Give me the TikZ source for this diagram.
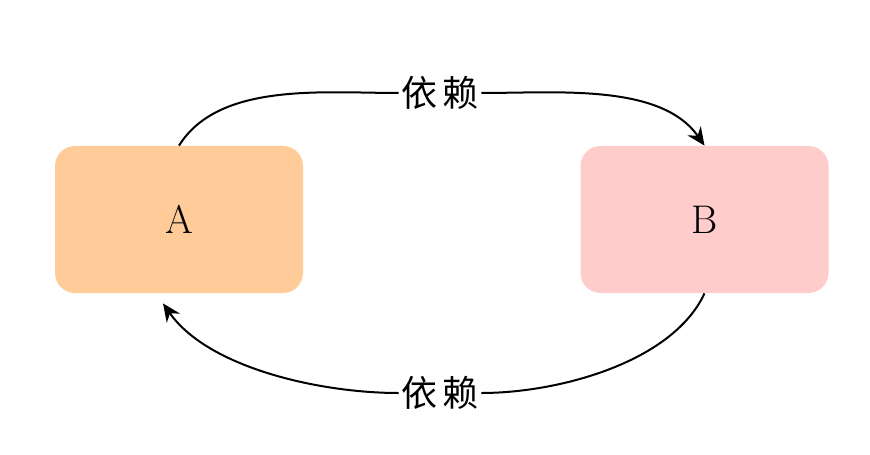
\documentclass[tikz,border=0pt]{standalone}
\usepackage{fontspec}
\usepackage{tikz}
\usepackage{xcolor}
\usetikzlibrary{arrows.meta,calc,positioning}
\newfontfamily\cjk{Noto Sans CJK SC}
\definecolor{boxorange}{RGB}{255,204,153}
\definecolor{boxpink}{RGB}{255,204,204}
\tikzset{%
	block/.style    = {rectangle, rounded corners=10pt, minimum width=124pt, minimum height=73.5pt, font=\fontsize{20}{22}\selectfont},
	label/.style    = {fill=white, inner sep=1pt, font=\cjk\fontsize{18}{20}\selectfont}, % edge label
	waypoint/.style = {coordinate},
	arrow/.style    = {line width=1pt, -{Stealth[length=9pt,width=8pt]}},
}
\begin{document}
\begin{tikzpicture}[x=0.5pt,y=-0.5pt]
	\useasboundingbox (0,0) rectangle (870,454);
	\node[block,fill=boxorange] (a) at (179,219.5) {A};
	\node[block,fill=boxpink] (b) at (704.5,219.5) {B};
	\node[label] (top) at (440,93) {依\hspace{3pt}赖};
	\node[label] (bottom) at (440,393) {依\hspace{3pt}赖};
	\coordinate (ain) at ($(a.south)+(-16,10)$);
	\draw[line width=1pt] (a.north) to[out=58,in=180,looseness=0.85] (top.west);
	\draw[arrow] (top.east) to[out=0,in=125,looseness=0.85] (b.north);
	\draw[line width=1pt] (b.south) to[out=245,in=0,looseness=0.8] (bottom.east);
	\draw[arrow] (bottom.west) to[out=180,in=-55,looseness=0.8] (ain);
\end{tikzpicture}
\end{document}
